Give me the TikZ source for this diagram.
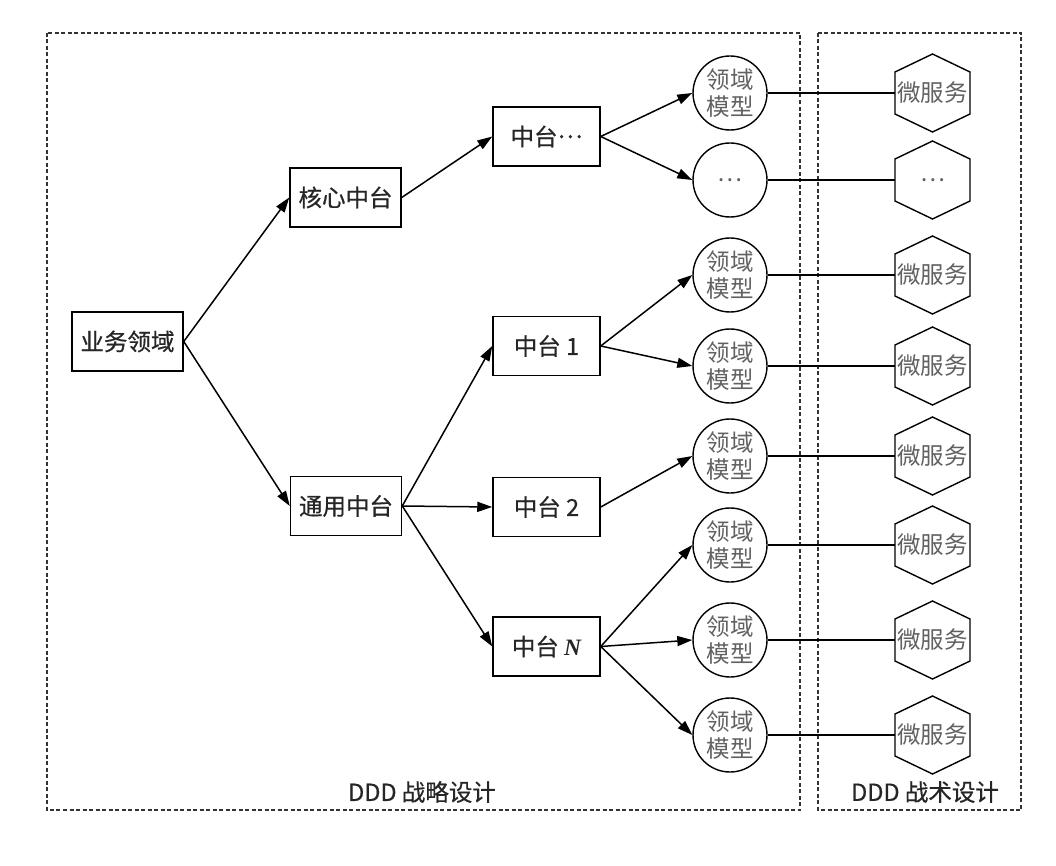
\documentclass[tikz,border=0pt]{standalone}
\usepackage{fontspec}
\setmainfont{Noto Sans CJK SC}
\newfontfamily\boxfont{Noto Sans CJK SC}[FakeBold=0.6]
\newfontfamily\tms{Liberation Serif}
\usetikzlibrary{arrows.meta,calc}
\begin{document}
\begin{tikzpicture}[x=1pt,y=-1pt,
  box/.style={draw, line width=1.5pt, minimum width=111pt, minimum height=59pt, inner sep=0pt,
    font=\boxfont\fontsize{23.5}{27}\selectfont, text=black!85},
  zbox/.style={box, minimum width=107pt},
  circ/.style={draw, circle, minimum size=74pt, inner sep=0pt, line width=1.4pt,
    font=\fontsize{23.5}{27}\selectfont, text=black!62, align=center},
  hexn/.style={rectangle, minimum width=75pt, minimum height=78pt, inner sep=0pt,
    font=\fontsize{23.5}{27}\selectfont, text=black!62},
  hexline/.style={line width=1.4pt},
  arr/.style={-{Triangle[length=15pt,width=10pt]}, line width=1.5pt},
  link/.style={line width=1.4pt},
  frame/.style={dash pattern=on 4pt off 2.5pt, line width=1.4pt, black!80},
  lbl/.style={font=\boxfont\fontsize{23.5}{27}\selectfont, text=black!85}]
\useasboundingbox (0,0) rectangle (1056,866);
\fill[white] (0,0) rectangle (1056,866);

% frames
\draw[frame] (47,33) rectangle (800,810);
\draw[frame] (818,33) rectangle (1021,810);
\node[lbl] (l1) at (422,792) {DDD 战略设计};
\node[lbl] (l2) at (925,792) {DDD 战术设计};

% boxes
\node[box] (yw) at (127.5,341.5) {业务领域};
\node[box] (hx) at (345.5,197.5) {核心中台};
\node[box] (ty) at (346,506) {通用中台};
\node[zbox] (zd) at (546.5,136.5) {中台\raisebox{0.32em}{…}};
\node[zbox] (z1) at (546.5,346) {中台 1};
\node[zbox] (z2) at (546.5,507) {中台 2};
\node[zbox] (zn) at (546.5,646.5) {中台 {\tms\itshape\bfseries N}};

% circles and hexagons
\foreach \i/\y/\t/\h in {1/93/{领域\\模型}/微服务, 2/180/…/…, 3/275/{领域\\模型}/微服务,
  4/366/{领域\\模型}/微服务, 5/456/{领域\\模型}/微服务, 6/545/{领域\\模型}/微服务,
  7/640/{领域\\模型}/微服务, 8/735/{领域\\模型}/微服务}{
  \node[circ] (c\i) at (730,\y) {\t};
  \node[hexn] (h\i) at (932.5,\y) {\h};
  \draw[hexline] (h\i.center) ++(0,-39) -- ++(37.5,18) -- ++(0,42) -- ++(-37.5,18)
     -- ++(-37.5,-18) -- ++(0,-42) -- cycle;
  \draw[link] (c\i.east) -- (h\i.west);
}

% arrows
\draw[arr] (yw.east) -- (hx.west);
\draw[arr] (yw.east) -- (ty.west);
\draw[arr] (hx.east) -- (zd.west);
\draw[arr] (ty.east) -- (z1.west);
\draw[arr] (ty.east) -- (z2.west);
\draw[arr] (ty.east) -- (zn.west);
\draw[arr] (zd.east) -- (c1.west);
\draw[arr] (zd.east) -- (c2.west);
\draw[arr] (z1.east) -- (c3.west);
\draw[arr] (z1.east) -- (c4.west);
\draw[arr] (z2.east) -- (c5.west);
\draw[arr] (zn.east) -- (c6.west);
\draw[arr] (zn.east) -- (c7.west);
\draw[arr] (zn.east) -- (c8.west);
\end{tikzpicture}
\end{document}
